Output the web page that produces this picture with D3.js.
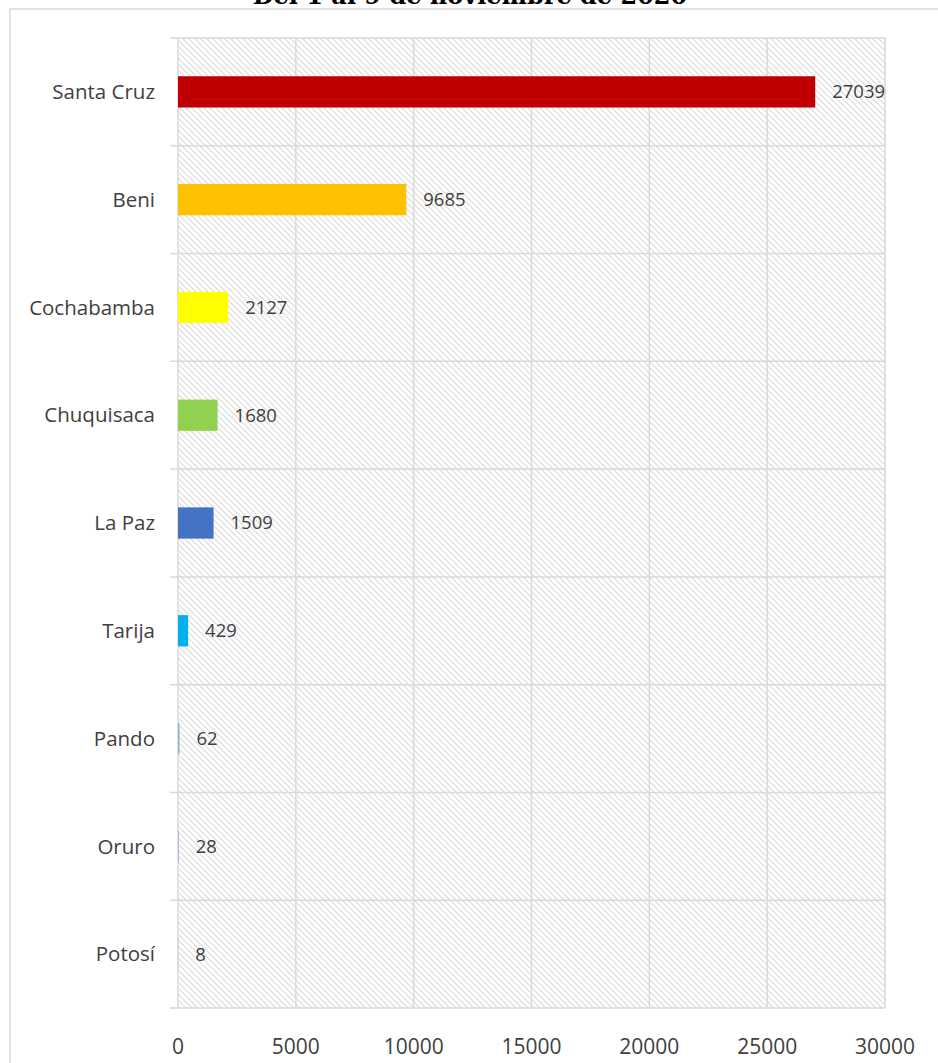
<!DOCTYPE html>
<html><head><meta charset="utf-8">
<script src="https://cdn.jsdelivr.net/npm/d3@7"></script>
<style>html,body{margin:0;padding:0;background:#fff;}svg{display:block;}</style>
</head><body>
<script>
const title = "Del 1 al 9 de noviembre de 2020";
const categories = ["Santa Cruz","Beni","Cochabamba","Chuquisaca","La Paz","Tarija","Pando","Oruro","Potosí"];
const values = [27039,9685,2127,1680,1509,429,62,28,8];
const colors = ["#C00000","#FFC000","#FFFF00","#92D050","#4472C4","#00B0F0","#8FAADC","#8FAADC","#8FAADC"];
const xTicks = [0,5000,10000,15000,20000,25000,30000];

const W = 938, H = 1063;
const m = {left:178, right:938-885, top:38, bottom:H-1008};
const svg = d3.select("body").append("svg").attr("width",W).attr("height",H);

const defs = svg.append("defs");
const pat = defs.append("pattern").attr("id","hatch").attr("patternUnits","userSpaceOnUse")
  .attr("width",6).attr("height",6);
pat.append("rect").attr("width",6).attr("height",6).attr("fill","#fff");
pat.append("path").attr("d","M0,0L6,6M-1,5L1,7M5,-1L7,1").attr("stroke","#dadada").attr("stroke-width",1.1);

// outer border
svg.append("rect").attr("x",10).attr("y",9).attr("width",W).attr("height",H)
  .attr("fill","none").attr("stroke","#d9d9d9").attr("stroke-width",1.5);

// title (clipped at top, as in the reference)
svg.append("text").attr("x",470).attr("y",4).attr("text-anchor","middle")
  .attr("font-family","DejaVu Serif").attr("font-weight","bold").attr("font-size",24)
  .attr("fill","#000").text(title);

const x = d3.scaleLinear().domain([0,30000]).range([m.left, W-m.right]);
const y = d3.scaleBand().domain(categories).range([m.top, H-m.bottom]).paddingInner(0.71).paddingOuter(0.355);

// plot background
svg.append("rect").attr("x",x(0)).attr("y",m.top).attr("width",x(30000)-x(0)).attr("height",H-m.bottom-m.top)
  .attr("fill","url(#hatch)");

const grid = svg.append("g");
grid.selectAll("line.v").data(xTicks).join("line").attr("class","v")
  .attr("x1",d=>x(d)).attr("x2",d=>x(d)).attr("y1",m.top).attr("y2",H-m.bottom)
  .attr("stroke","#d9d9d9").attr("stroke-width",1.5);
const step = y.step();
const bounds = d3.range(categories.length+1).map(i => m.top + i*step);
grid.selectAll("line.h").data(bounds).join("line").attr("class","h")
  .attr("x1",x(0)-8).attr("x2",x(30000)).attr("y1",d=>d).attr("y2",d=>d)
  .attr("stroke","#d9d9d9").attr("stroke-width",1.5);

// bars
svg.append("g").selectAll("rect").data(categories).join("rect")
  .attr("x",x(0)).attr("y",d=>y(d)).attr("height",y.bandwidth())
  .attr("width",(d,i)=>Math.max(x(values[i])-x(0), 0))
  .attr("fill",(d,i)=>colors[i]);

// value labels
svg.append("g").selectAll("text").data(categories).join("text")
  .attr("x",(d,i)=>x(values[i])+17).attr("y",d=>y(d)+y.bandwidth()/2)
  .attr("dy","0.35em").attr("font-family","Open Sans").attr("font-size",18.5).attr("fill","#404040")
  .text((d,i)=>values[i]);

// category labels
svg.append("g").selectAll("text").data(categories).join("text")
  .attr("x",155).attr("y",d=>y(d)+y.bandwidth()/2).attr("dy","0.35em")
  .attr("text-anchor","end").attr("font-family","Open Sans").attr("font-size",20.5).attr("fill","#404040")
  .text(d=>d);

// x tick labels
svg.append("g").selectAll("text").data(xTicks).join("text")
  .attr("x",d=>x(d)).attr("y",1047).attr("dy","0.35em").attr("text-anchor","middle")
  .attr("font-family","Open Sans").attr("font-size",21).attr("fill","#404040")
  .text(d=>d);
</script>
</body></html>
